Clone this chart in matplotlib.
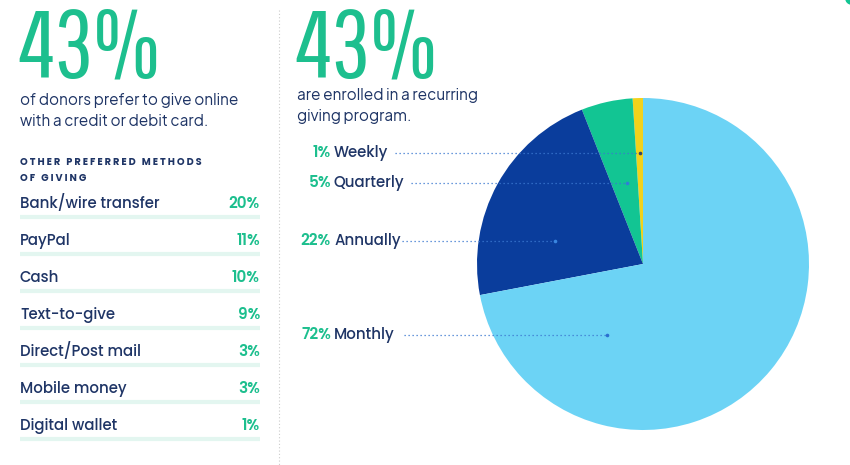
import numpy as np
import matplotlib.pyplot as plt
from matplotlib.patches import Circle
import logging

logging.getLogger("matplotlib.font_manager").setLevel(logging.ERROR)

W, H = 850, 465

#left panel data
methods = ["Bank/wire transfer", "PayPal", "Cash", "Text-to-give",
           "Direct/Post mail", "Mobile money", "Digital wallet"]
method_pct = [20, 11, 10, 9, 3, 3, 1]

#right panel data
freq_labels = ["Weekly", "Quarterly", "Annually", "Monthly"]
freq_pct = [1, 5, 22, 72]
freq_colors = ["#f2d21b", "#12c593", "#0a3d9c", "#6cd3f5"]

online_pct = 43
recurring_pct = 43

green = "#1dbf8e"
navy = "#1f3566"
track = "#e3f6f0"

big_font = ["Pathway Gothic One", "Antonio", "DejaVu Sans"]
body = ["Plus Jakarta Sans", "Poppins", "DejaVu Sans"]
label_font = ["Poppins", "DejaVu Sans"]

fig = plt.figure(figsize=(W / 100, H / 100), dpi=100)
ax = fig.add_axes([0, 0, 1, 1])

def Y(y):
    return H - y  #picture coords (top-down) to axis coords

#pie first so it sets its own limits, then fix them
ax.pie(freq_pct, colors=freq_colors, startangle=90, counterclock=True,
       center=(643, Y(264)), radius=166, frame=True,
       wedgeprops=dict(linewidth=0))
ax.set_xlim(0, W)
ax.set_ylim(0, H)
ax.set_aspect("auto")
ax.axis("off")

#big numbers
ax.text(18, Y(78), f"{online_pct}%", color=green, fontsize=69, family=big_font,
        va="baseline", ha="left")
ax.text(295, Y(78), f"{recurring_pct}%", color=green, fontsize=69, family=big_font,
        va="baseline", ha="left")

ax.text(20, Y(105), "of donors prefer to give online", color=navy, fontsize=11,
        family=body, va="baseline")
ax.text(20, Y(126), "with a credit or debit card.", color=navy, fontsize=11,
        family=body, va="baseline")
ax.text(20, Y(165), "O T H E R   P R E F E R R E D   M E T H O D S", color=navy,
        fontsize=7, family=label_font, weight="bold", va="baseline")
ax.text(20, Y(181), "O F   G I V I N G", color=navy, fontsize=7, family=label_font,
        weight="bold", va="baseline")

#method list with progress bars
x0, x1 = 20, 260
for i, (m, p) in enumerate(zip(methods, method_pct)):
    yb = 208 + i * 37
    ax.text(x0, Y(yb), m, color=navy, fontsize=10.8, family=label_font, weight=500,
            va="baseline")
    ax.text(x1, Y(yb), f"{p}%", color=green, fontsize=11, family=label_font,
            weight=600, va="baseline", ha="right")
    ax.plot([x0, x1], [Y(yb + 9), Y(yb + 9)], color=track, lw=3, solid_capstyle="butt")
    ax.barh(Y(yb + 9), (x1 - x0) * p / 100, left=x0, height=3.4, color=green)

#dotted separator
ax.plot([279, 279], [Y(10), Y(465)], color="#cccccc", lw=0.8, ls=(0, (1, 2)))

ax.text(297, Y(100), "are enrolled in a recurring", color=navy, fontsize=11,
        family=body, va="baseline")
ax.text(297, Y(121), "giving program.", color=navy, fontsize=11,
        family=body, va="baseline")

#pie labels with dotted leaders
label_y = [153, 183, 241, 335]
line_start = [395, 411, 402, 404]
dot_x = [640, 627, 555, 607]
dot_col = ["#334466", "#2f7fd6", "#3a86e0", "#2a6fd0"]
for lab, p, yy, xs, xd, dc in zip(freq_labels, freq_pct, label_y, line_start, dot_x, dot_col):
    ax.text(331, Y(yy), f"{p}%", color=green, fontsize=11, family=label_font,
            weight=600, va="center", ha="right")
    ax.text(334, Y(yy), lab, color=navy, fontsize=10.8, family=label_font, weight=500,
            va="center", ha="left")
    ax.plot([xs, xd], [Y(yy), Y(yy)], color="#3b78d0", lw=0.9, ls=(0, (1, 2.2)))
    ax.plot(xd, Y(yy), "o", ms=2.6, color=dc, mec="none")

#small green shape peeking in at the top-right corner
ax.add_patch(Circle((852, Y(-2)), 7, color="#12c593", lw=0))

fig.savefig("out.png", dpi=100)
